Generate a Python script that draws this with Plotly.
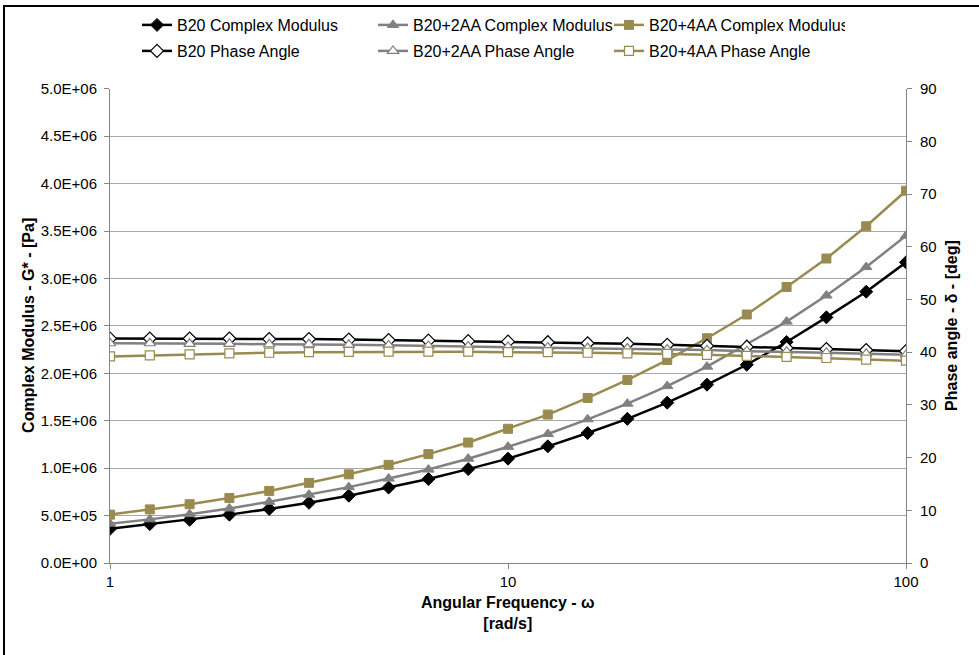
import plotly.graph_objects as go

# Angular frequency sweep [rad/s]
freq = [1, 1.259, 1.585, 1.995, 2.512, 3.162, 3.981, 5.012, 6.310, 7.943,
        10, 12.59, 15.85, 19.95, 25.12, 31.62, 39.81, 50.12, 63.10, 79.43, 100]

# Complex modulus G* [Pa]
g_b20 = [3.6e5, 4.1e5, 4.55e5, 5.1e5, 5.7e5, 6.35e5, 7.1e5, 7.95e5, 8.85e5, 9.9e5,
         1.10e6, 1.23e6, 1.37e6, 1.52e6, 1.69e6, 1.88e6, 2.09e6, 2.33e6, 2.59e6, 2.86e6, 3.17e6]
g_2aa = [4.15e5, 4.6e5, 5.15e5, 5.75e5, 6.45e5, 7.2e5, 8.0e5, 8.9e5, 9.85e5, 1.10e6,
         1.225e6, 1.36e6, 1.515e6, 1.68e6, 1.865e6, 2.07e6, 2.305e6, 2.545e6, 2.82e6, 3.12e6, 3.45e6]
g_4aa = [5.1e5, 5.65e5, 6.2e5, 6.85e5, 7.6e5, 8.45e5, 9.35e5, 1.035e6, 1.148e6, 1.27e6,
         1.415e6, 1.565e6, 1.74e6, 1.93e6, 2.14e6, 2.37e6, 2.62e6, 2.91e6, 3.21e6, 3.55e6, 3.925e6]

# Phase angle delta [deg]
d_b20 = [42.6, 42.6, 42.6, 42.6, 42.5, 42.5, 42.4, 42.3, 42.2, 42.1,
         42.0, 41.9, 41.7, 41.6, 41.4, 41.2, 41.0, 40.8, 40.6, 40.4, 40.2]
d_2aa = [41.7, 41.7, 41.6, 41.6, 41.5, 41.5, 41.4, 41.3, 41.2, 41.1,
         41.0, 40.9, 40.8, 40.7, 40.5, 40.4, 40.2, 40.1, 39.9, 39.7, 39.5]
d_4aa = [39.2, 39.4, 39.6, 39.8, 39.9, 40.0, 40.05, 40.1, 40.1, 40.1,
         40.0, 40.0, 39.9, 39.8, 39.7, 39.5, 39.3, 39.1, 38.9, 38.6, 38.4]

# Axis ticks
g_ticks = [i * 5e5 for i in range(11)]
g_ticktext = [f"{v:.1E}" for v in g_ticks]
d_ticks = list(range(0, 91, 10))
x_ticks = [1, 10, 100]

BLACK = "#000000"
GRAY = "#808080"
TAN = "#998B50"
FONT = "Liberation Sans, Arial, sans-serif"
SIZES = {"diamond": 10, "triangle-up": 10, "square": 9}

fig = go.Figure()

modulus = [("B20 Complex Modulus", g_b20, BLACK, "diamond"),
           ("B20+2AA Complex Modulus", g_2aa, GRAY, "triangle-up"),
           ("B20+4AA Complex Modulus", g_4aa, TAN, "square")]
for name, ys, col, sym in modulus:
    fig.add_trace(go.Scatter(
        x=freq, y=ys, name=name, mode="lines+markers", legend="legend",
        line=dict(color=col, width=2.5),
        marker=dict(symbol=sym, size=SIZES[sym], color=col,
                    line=dict(color=col, width=1)),
    ))

phase = [("B20 Phase Angle", d_b20, BLACK, "diamond"),
         ("B20+2AA Phase Angle", d_2aa, GRAY, "triangle-up"),
         ("B20+4AA Phase Angle", d_4aa, TAN, "square")]
for name, ys, col, sym in phase:
    fig.add_trace(go.Scatter(
        x=freq, y=ys, name=name, mode="lines+markers", yaxis="y2", legend="legend2",
        line=dict(color=col, width=2.5),
        marker=dict(symbol=sym, size=SIZES[sym], color="white",
                    line=dict(color=col, width=1.2)),
    ))

axis_line = "#868686"
tick_font = dict(family=FONT, size=15, color=BLACK)

legend_common = dict(
    orientation="h", xref="container", yref="container",
    xanchor="left", yanchor="middle",
    font=dict(family=FONT, size=16, color=BLACK),
    entrywidth=191, entrywidthmode="pixels",
    bgcolor="rgba(0,0,0,0)", borderwidth=0,
    itemclick=False, itemdoubleclick=False,
)

fig.update_layout(
    width=979, height=655, autosize=False,
    margin=dict(l=110, r=73, t=87, b=92),
    paper_bgcolor="white", plot_bgcolor="white",
    font=dict(family=FONT, size=15, color=BLACK),
    xaxis=dict(
        type="log", range=[0, 2], tickvals=x_ticks, ticktext=[str(v) for v in x_ticks],
        showgrid=False, zeroline=False, showline=True, linecolor=axis_line, linewidth=1,
        ticks="outside", ticklen=5, tickcolor=axis_line, tickfont=tick_font,
    ),
    yaxis=dict(
        range=[0, 5e6], tickvals=g_ticks, ticktext=g_ticktext,
        showgrid=True, gridcolor="#A8A8A8", gridwidth=1, zeroline=False,
        showline=True, linecolor=axis_line, linewidth=1,
        ticks="outside", ticklen=5, tickcolor=axis_line, tickfont=tick_font,
        ticklabelstandoff=4,
    ),
    yaxis2=dict(
        range=[0, 90], tickvals=d_ticks, overlaying="y", side="right",
        showgrid=False, zeroline=False, showline=True, linecolor=axis_line, linewidth=1,
        ticks="outside", ticklen=5, tickcolor=axis_line, tickfont=tick_font,
        ticklabelstandoff=5,
    ),
    legend=dict(x=137 / 979, y=1 - 25 / 655, **legend_common),
    legend2=dict(x=137 / 979, y=1 - 51 / 655, **legend_common),
    showlegend=True,
)

# Axis titles
title_font = dict(family=FONT, size=16, color=BLACK)
fig.add_annotation(text="<b>Complex Modulus - G* - [Pa]</b>", xref="paper", yref="paper",
                   x=(29 - 110) / 796, y=0.5, textangle=-90, showarrow=False,
                   xanchor="center", yanchor="middle", font=title_font)
fig.add_annotation(text="<b>Phase angle - δ - [deg]</b>", xref="paper", yref="paper",
                   x=(952 - 110) / 796, y=0.5, textangle=-90, showarrow=False,
                   xanchor="center", yanchor="middle", font=title_font)
fig.add_annotation(text="<b>Angular Frequency - ω</b><br><b>[rad/s]</b>", xref="paper", yref="paper",
                   x=0.5, y=(563 - 613) / 476, showarrow=False,
                   xanchor="center", yanchor="middle", font=title_font)

# Chart frame
fig.add_shape(type="rect", xref="paper", yref="paper",
              x0=(4 - 110) / 796, x1=(995 - 110) / 796,
              y0=(563 - 670) / 476, y1=(563 - 4) / 476,
              line=dict(color=BLACK, width=2), fillcolor="rgba(0,0,0,0)", layer="below")

fig.write_html("out.html")
